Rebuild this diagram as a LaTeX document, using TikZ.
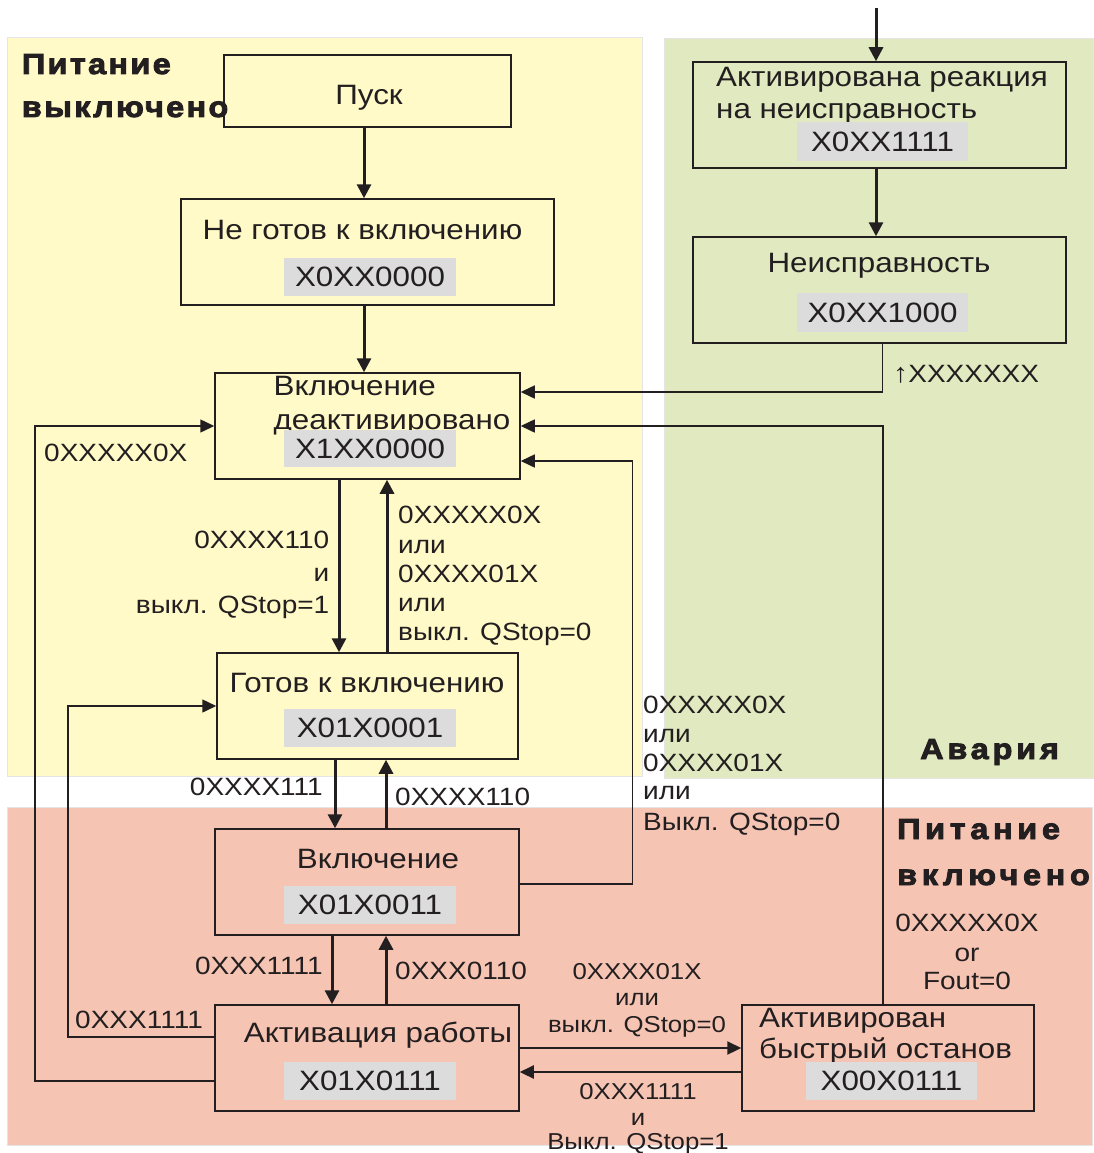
\documentclass[tikz,border=0pt]{standalone}
\usepackage{fontspec}
\setmainfont{Liberation Sans}[FakeStretch=1.12]
\newfontfamily\boldlbl{Liberation Sans}[FakeStretch=1.12,LetterSpace=8,BoldFeatures={FakeBold=3}]
\newfontfamily\boldlblm{Liberation Sans}[FakeStretch=1.12,LetterSpace=13,BoldFeatures={FakeBold=3}]
\newfontfamily\boldlblw{Liberation Sans}[FakeStretch=1.12,LetterSpace=16,BoldFeatures={FakeBold=3}]
\usetikzlibrary{arrows.meta,calc}
\definecolor{ink}{HTML}{231F20}
\definecolor{yel}{HTML}{FFFAC8}
\definecolor{grn}{HTML}{E0E9BF}
\definecolor{pnk}{HTML}{F6C4B3}
\definecolor{codegrey}{HTML}{DCDCDC}
\begin{document}
\begin{tikzpicture}[x=1pt,y=-1pt,
  region/.style={draw=black!10, line width=0.8pt},
  state/.style={draw=ink, line width=1.5pt, rectangle, inner sep=0pt},
  code/.style={fill=codegrey, inner sep=0pt, minimum width=172pt, minimum height=38pt, font=\fontsize{28}{32}\selectfont, text=ink},
  title/.style={font=\fontsize{28}{32}\selectfont, text=ink, inner sep=0pt},
  lbl/.style={font=\fontsize{25}{29}\selectfont, text=ink, inner sep=0pt},
  slbl/.style={font=\fontsize{23}{26}\selectfont, text=ink, inner sep=0pt},
  zone/.style={text=ink, inner sep=0pt},
  tarr/.style={draw=ink, line width=3pt, -{Triangle[length=14pt,width=14pt]}},
  marr/.style={draw=ink, line width=2.2pt, -{Triangle[length=14pt,width=13pt]}},
  arr/.style={draw=ink, line width=1.5pt, -{Triangle[length=14pt,width=13pt]}},
]
\useasboundingbox (0,0) rectangle (1094,1153);
\fill[white] (0,0) rectangle (1094,1153);
% regions
\path[fill=yel, region] (7.3,37.7) rectangle (642,776);
\path[fill=grn, region] (664,38) rectangle (1093,778);
\path[fill=pnk, region] (7,807) rectangle (1092,1145);

% states
\node[state, minimum width=287pt, minimum height=72pt] (pusk) at (367.5,91) {};
\node[state, minimum width=373pt, minimum height=106pt] (ngot) at (367.5,252) {};
\node[state, minimum width=305pt, minimum height=106pt] (deakt) at (367.5,426) {};
\node[state, minimum width=301pt, minimum height=106pt] (gotov) at (367.5,706) {};
\node[state, minimum width=304pt, minimum height=106pt] (vkl) at (367,882) {};
\node[state, minimum width=304pt, minimum height=106pt] (rab) at (367,1058) {};
\node[state, minimum width=292pt, minimum height=106pt] (bqs) at (888,1058) {};
\node[state, minimum width=373pt, minimum height=106pt] (react) at (879.5,115) {};
\node[state, minimum width=373pt, minimum height=106pt] (fault) at (879.5,290) {};

% titles
\node[title, anchor=base] (puskT) at (369,105) {Пуск};
\node[title, anchor=base] (ngotT) at (362.5,239) {Не готов к включению};
\node[title, anchor=base west] (deaktT1) at (273.5,395) {Включение};
\node[title, anchor=base west] (deaktT2) at (273.5,429) {деактивировано};
\node[title, anchor=base] (gotovT) at (367,692) {Готов к включению};
\node[title, anchor=base] (vklT) at (378,868) {Включение};
\node[title, anchor=base] (rabT) at (378,1042) {Активация работы};
\node[title, anchor=base west] (bqsT1) at (759,1027) {Активирован};
\node[title, anchor=base west] (bqsT2) at (759,1058) {быстрый останов};
\node[title, anchor=base west] (reactT1) at (716,87) {Активирована реакция};
\node[title, anchor=base west] (reactT2) at (716,119) {на неисправность};
\node[title, anchor=base] (faultT) at (879,272) {Неисправность};

% codes
\node[code] (ngotC) at (370,277) {X0XX0000};
\node[code, minimum height=37pt] (deaktC) at (370,448.5) {X1XX0000};
\node[code] (gotovC) at (370,728) {X01X0001};
\node[code] (vklC) at (370,905) {X01X0011};
\node[code] (rabC) at (370,1081) {X01X0111};
\node[code, minimum width=171pt] (bqsC) at (891.5,1081) {X00X0111};
\node[code, minimum width=171pt, minimum height=39pt] (reactC) at (882.5,141.5) {X0XX1111};
\node[code, minimum width=171pt, minimum height=39pt] (faultC) at (882.5,312.5) {X0XX1000};

% zone labels
\node[zone, font=\boldlbl\bfseries\fontsize{29}{33}\selectfont, anchor=base west] (z1a) at (21.7,74) {Питание};
\node[zone, font=\boldlbl\bfseries\fontsize{29}{33}\selectfont, anchor=base west] (z1b) at (21.7,117) {выключено};
\node[zone, font=\boldlblm\bfseries\fontsize{29}{33}\selectfont, anchor=base west] (z2) at (920,759) {Авария};
\node[zone, font=\boldlblw\bfseries\fontsize{29}{33}\selectfont, anchor=base west] (z3a) at (897,839) {Питание};
\node[zone, font=\boldlblw\bfseries\fontsize{29}{33}\selectfont, anchor=base west] (z3b) at (897,885) {включено};

% column coordinates
\coordinate (topin) at (876,8);
\coordinate (xa) at (364,0);
\coordinate (xd1) at (339,0);
\coordinate (xu1) at (387,0);
\coordinate (xd2) at (335,0);
\coordinate (xu2) at (386,0);
\coordinate (xd3) at (332,0);
\coordinate (xu3) at (386,0);
\coordinate (rx) at (632.6,884);
\coordinate (lx1) at (35,0);
\coordinate (lx2) at (68,0);

% main vertical connectors
\draw[tarr] (topin) -- (topin |- react.north);
\draw[tarr] (react.south -| topin) -- (fault.north -| topin);
\draw[tarr] (pusk.south -| xa) -- (ngot.north -| xa);
\draw[tarr] (ngot.south -| xa) -- (deakt.north -| xa);
\draw[tarr] (deakt.south -| xd1) -- (gotov.north -| xd1);
\draw[tarr] (gotov.north -| xu1) -- (deakt.south -| xu1);
\draw[tarr] (gotov.south -| xd2) -- (vkl.north -| xd2);
\draw[tarr] (vkl.north -| xu2) -- (gotov.south -| xu2);
\draw[tarr] (vkl.south -| xd3) -- (rab.north -| xd3);
\draw[tarr] (rab.north -| xu3) -- (vkl.south -| xu3);
\draw[marr] ($(rab.east)+(0,-10)$) -- ($(bqs.west)+(0,-10)$);
\draw[marr] ($(bqs.west)+(0,14)$) -- ($(rab.east)+(0,14)$);

% return connectors
\draw[arr] ($(fault.south)+(3,0)$) |- ($(deakt.east)+(0,-34)$);
\draw[arr] ($(bqs.north)+(-5,0)$) |- (deakt.east);
\draw[arr] (vkl.east |- rx) -- (rx) |- ($(deakt.east)+(0,35)$);
\draw[arr] ($(rab.west)+(0,23)$) -| (lx1 |- deakt.west) -- (deakt.west);
\draw[arr] ($(rab.west)+(0,-21)$) -| (lx2 |- gotov.west) -- (gotov.west);

% edge labels
\node[lbl, anchor=base east] (l1a) at (329.5,548) {0XXXX110};
\node[lbl, anchor=base east] (l1b) at (329.5,581) {и};
\node[lbl, anchor=base east] (l1c) at (329.5,613) {выкл. QStop=1};

\node[lbl, anchor=base west] (l2a) at (398,523) {0XXXXX0X};
\node[lbl, anchor=base west] (l2b) at (398,553) {или};
\node[lbl, anchor=base west] (l2c) at (398,582) {0XXXX01X};
\node[lbl, anchor=base west] (l2d) at (398,611) {или};
\node[lbl, anchor=base west] (l2e) at (398,640) {выкл. QStop=0};

\node[lbl, anchor=base east] (l3) at (323,795) {0XXXX111};
\node[lbl, anchor=base west] (l4) at (395,805) {0XXXX110};
\node[lbl, anchor=base east] (l5) at (323,974) {0XXX1111};
\node[lbl, anchor=base west] (l6) at (395,979) {0XXX0110};
\node[lbl, anchor=base west] (l7) at (75,1028) {0XXX1111};
\node[lbl, anchor=base west] (l8) at (44,461) {0XXXXX0X};

\node[lbl, anchor=base west] (l9a) at (643,713) {0XXXXX0X};
\node[lbl, anchor=base west] (l9b) at (643,742) {или};
\node[lbl, anchor=base west] (l9c) at (643,771) {0XXXX01X};
\node[lbl, anchor=base west] (l9d) at (643,799) {или};
\node[lbl, anchor=base west] (l9e) at (643,830) {Выкл. QStop=0};

\node[lbl, anchor=base west] (l10) at (893,382) {{\fontsize{27}{27}\selectfont ↑}XXXXXXX};

\node[slbl, anchor=base] (l11a) at (637,979) {0XXXX01X};
\node[slbl, anchor=base] (l11b) at (637,1005) {или};
\node[slbl, anchor=base] (l11c) at (637,1032) {выкл. QStop=0};

\node[slbl, anchor=base] (l12a) at (638,1099) {0XXX1111};
\node[slbl, anchor=base] (l12b) at (638,1125) {и};
\node[slbl, anchor=base] (l12c) at (638,1149) {Выкл. QStop=1};

\node[lbl, anchor=base] (l13a) at (967,931) {0XXXXX0X};
\node[lbl, anchor=base] (l13b) at (967,961) {or};
\node[lbl, anchor=base] (l13c) at (967,989) {Fout=0};
\end{tikzpicture}
\end{document}
